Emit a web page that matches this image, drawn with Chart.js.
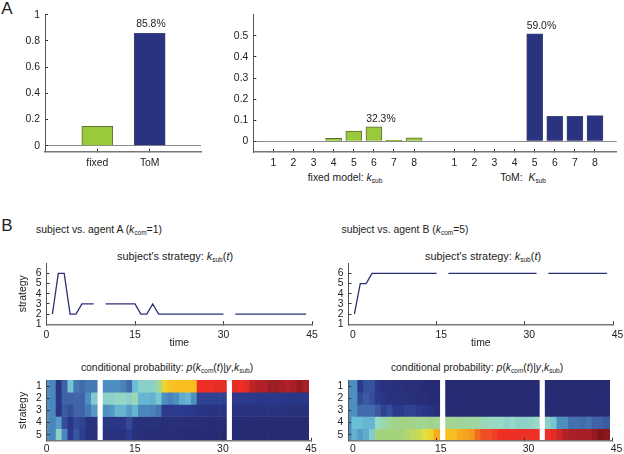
<!DOCTYPE html>
<html><head><meta charset="utf-8">
<script src="https://cdn.jsdelivr.net/npm/chart.js@4"></script>
<style>
html,body{margin:0;padding:0;background:#fff;width:624px;height:454px;overflow:hidden}
canvas{position:absolute}
.t{position:absolute;font-family:"Liberation Sans",Arial,sans-serif;font-size:10.4px;line-height:12px;color:#222;white-space:nowrap;transform:translate(-50%,-50%)}
.t sub{font-size:6.5px;line-height:0;vertical-align:-2px}
.big{font-size:17px;line-height:18px}
.s{font-size:10.9px}
</style></head><body>
<div class="t big" style="left:7px;top:9px">A</div>
<div class="t big" style="left:7px;top:226px">B</div>
<div class="t" style="left:345px;top:178px">fixed model: <i>k</i><sub>sub</sub></div>
<div class="t" style="left:523px;top:178px">ToM: &nbsp;<i>K</i><sub>sub</sub></div>
<div class="t" style="left:99px;top:230px">subject vs. agent A (<i>k</i><sub>com</sub>=1)</div>
<div class="t" style="left:405px;top:230px">subject vs. agent B (<i>k</i><sub>com</sub>=5)</div>
<div class="t s" style="left:175px;top:256px">subject's strategy: <i>k</i><sub>sub</sub>(<i>t</i>)</div>
<div class="t s" style="left:483px;top:256px">subject's strategy: <i>k</i><sub>sub</sub>(<i>t</i>)</div>
<div class="t" style="left:167px;top:368px">conditional probability: <i>p</i>(<i>k</i><sub>com</sub>(<i>t</i>)|<i>y</i>,<i>k</i><sub>sub</sub>)</div>
<div class="t" style="left:477px;top:368px">conditional probability: <i>p</i>(<i>k</i><sub>com</sub>(<i>t</i>)|<i>y</i>,<i>k</i><sub>sub</sub>)</div>
<script>
// ---------- data ----------
const modelNames = ['fixed','ToM'];
const modelEvidence = [0.148,0.858];
const levelLabels = [1,2,3,4,5,6,7,8];
const fixedLevelValues = [0,0,0,0.014,0.049,0.068,0.005,0.017];
const tomLevelValues = [0,0,0,0,0.509,0.118,0.118,0.122];
const yTicksModel = [0,0.2,0.4,0.6,0.8,1];
const yTicksLevel = [0,0.1,0.2,0.3,0.4,0.5];
const timeTicks = [0,15,30,45];
const strategyTicks = [1,2,3,4,5,6];
const rowTicks = [1,2,3,4,5];

const strategyA = [null,2,6,6,2,2,3,3,3,null,3,3,3,3,3,3,2,2,3,2,2,2,2,2,2,2,2,2,2,2,2,null,2,2,2,2,2,2,2,2,2,2,2,2,2];
const strategyB = [null,2,5,5,6,6,6,6,6,6,6,6,6,6,6,6,null,6,6,6,6,6,6,6,6,6,6,6,6,6,6,6,6,null,6,6,6,6,6,6,6,6,6,6,6];

const agentA1 = [.3,.28,.07,.2,.42,.25,.22,.25,.25,null,.3,.3,.3,.27,.22,.4,.47,.47,.47,.55,.72,.75,.76,.76,.76,.76,.87,.87,.87,.88,.88,null,.88,.87,.88,.92,.93,.93,.95,.95,.94,.93,.94,.96,.94];
const agentA2 = [.3,.28,.08,.2,.2,.21,.2,.3,.45,null,.47,.47,.49,.49,.47,.52,.38,.38,.37,.43,.3,.27,.3,.36,.38,.3,.12,.12,.12,.12,.12,null,.1,.1,.1,.1,.09,.09,.09,.09,.09,.08,.08,.08,.08];
const agentA3 = [.3,.28,.08,.18,.15,.2,.2,.25,.32,null,.3,.32,.38,.38,.33,.38,.28,.28,.27,.24,.1,.1,.1,.1,.1,.09,.07,.07,.06,.06,.06,null,.05,.05,.05,.05,.05,.05,.05,.05,.05,.04,.04,.04,.04];
const agentA4 = [.3,.28,.33,.15,.08,.14,.12,.05,.05,null,.07,.07,.07,.09,.14,.05,.04,.04,.04,.04,.03,.03,.03,.03,.03,.03,.03,.02,.02,.02,.02,null,.01,.01,.01,.01,.01,.01,.01,.01,.01,.01,.01,.01,.01];
const agentA5 = [.3,.28,.47,.28,.1,.17,.11,.05,.04,null,.05,.05,.05,.06,.1,.04,.03,.03,.03,.03,.03,.03,.02,.02,.02,.02,.02,.02,.02,.01,.01,null,.01,.01,.01,.01,.01,.01,.01,.01,.01,.01,.01,.01,.01];

const agentB1 = [.3,.3,.1,.16,.16,.09,.05,.05,.04,.04,.03,.03,.03,.02,.02,.01,null,.01,.01,.01,.01,.01,.01,.01,.01,.01,.01,.01,.01,.01,.01,.01,.01,null,.01,.01,.01,.01,.01,.01,.01,.01,.01,.01,.01];
const agentB2 = [.3,.3,.14,.18,.15,.1,.07,.05,.05,.05,.04,.04,.03,.03,.02,.02,null,.01,.01,.01,.01,.01,.01,.01,.01,.01,.01,.01,.01,.01,.01,.01,.01,null,.01,.01,.01,.01,.01,.01,.01,.01,.01,.01,.01];
const agentB3 = [.3,.3,.22,.22,.22,.18,.12,.15,.1,.1,.12,.12,.1,.08,.06,.03,null,.01,.01,.01,.01,.01,.01,.01,.01,.01,.01,.01,.01,.01,.01,.01,.01,null,.01,.01,.01,.01,.01,.01,.01,.01,.01,.01,.01];
const agentB4 = [.3,.4,.4,.38,.38,.5,.53,.57,.58,.59,.59,.58,.57,.57,.58,.57,null,.57,.57,.56,.56,.55,.55,.52,.51,.5,.5,.48,.5,.47,.47,.48,.5,null,.47,.42,.3,.3,.23,.23,.22,.24,.2,.2,.18];
const agentB5 = [.3,.37,.33,.36,.45,.6,.6,.6,.6,.6,.62,.64,.66,.69,.72,.78,null,.76,.76,.78,.79,.8,.83,.85,.85,.86,.87,.87,.87,.87,.87,.87,.87,null,.87,.88,.9,.93,.94,.94,.94,.94,.96,.98,.97];

// ---------- styles ----------
const GREEN='#9bc93c', GREEN_B='#5d6e36', NAVY='#2a3380', NAVY_B='#3f4576';
const FONT={family:'"Liberation Sans",Arial,sans-serif',size:10.4};
const TXT='#222', AX='#555', AXB='#777';
const stops=[[0,[39,41,113]],[.1,[43,58,140]],[.2,[63,98,168]],[.3,[77,143,192]],[.4,[108,192,214]],[.5,[152,216,196]],[.6,[163,211,124]],[.7,[232,224,58]],[.76,[248,190,32]],[.8,[245,154,32]],[.87,[238,47,37]],[.94,[168,31,40]],[1,[110,16,20]]];
function cmap(v){
  for(let i=1;i<stops.length;i++){
    if(v<=stops[i][0]){
      const [a,ca]=stops[i-1],[b,cb]=stops[i],f=(v-a)/(b-a);
      return 'rgb('+ca.map((c,k)=>Math.round(c+(cb[k]-c)*f)).join(',')+')';
    }
  }
  return 'rgb(110,16,20)';
}
const ticksAt=vals=>s=>{s.ticks=vals.map(v=>({value:v}));};

const notePlugin={id:'barNote',afterDatasetsDraw(c,_,o){
  (o.notes||[]).forEach(n=>{
    const el=c.getDatasetMeta(n.ds).data[n.i];
    const ctx=c.ctx;ctx.save();ctx.font='10.4px '+FONT.family;ctx.fillStyle=TXT;ctx.textAlign='center';ctx.textBaseline='middle';
    ctx.fillText(n.text,el.x+n.dx,el.y+n.dy);ctx.restore();
  });
}};

// rect = plot area in page pixels; the canvas is placed on whole pixels around it.
// marL = room for the y axis, marB = room under the x axis.
function make(rect,marL,marB,type,data,x,y,notes){
  const TOP=18, RIGHT=20;
  const L=Math.floor(rect.x-marL), T=Math.floor(rect.y-TOP);
  const lm=rect.x-L, tm=rect.y-T;
  const cv=document.createElement('canvas');
  cv.width=Math.ceil(lm+rect.w+RIGHT);cv.height=Math.ceil(tm+rect.h+marB);
  cv.style.left=L+'px';cv.style.top=T+'px';
  document.body.appendChild(cv);
  x.afterFit=s=>{s.height=cv.height-tm-rect.h;};
  y.afterFit=s=>{s.width=lm;};
  return new Chart(cv,{type,data,plugins:[notePlugin],options:{
    responsive:false,animation:false,events:[],
    layout:{padding:{top:tm,right:cv.width-lm-rect.w,left:0,bottom:0}},
    plugins:{legend:{display:false},tooltip:{enabled:false},title:{display:false},barNote:{notes:notes||[]}},
    scales:{x,y}
  }});
}
function xScale(o){
  return {type:'linear',offset:false,
    border:{color:AXB,width:1.5,z:2},
    grid:{drawOnChartArea:false,tickLength:-3,tickColor:'#333',offset:false,z:o.onTop?1:-1},
    min:o.min,max:o.max,afterBuildTicks:ticksAt(o.at),
    ticks:{font:FONT,color:TXT,padding:o.pad,autoSkip:false,maxRotation:0,minRotation:0,labelOffset:o.lo||0,callback:o.label||(v=>String(v))}};
}
function yScale(o){
  return {type:'linear',min:o.min,max:o.max,reverse:!!o.reverse,afterBuildTicks:ticksAt(o.at),
    border:{color:AX,width:1,z:2},
    grid:{color:o.zero?(c=>c.tick&&c.tick.value===0?'#8c8c8c':'transparent'):'transparent',drawOnChartArea:!!o.zero,tickLength:-3,tickColor:'#333',lineWidth:1,z:o.onTop?1:-1},
    ticks:{font:FONT,color:TXT,padding:8,autoSkip:false,callback:v=>String(v)},
    title:o.title?{display:true,text:o.title,font:FONT,color:TXT,padding:{top:o.tp,bottom:0}}:{display:false}};
}

// ---------- panel A ----------
make({x:45,y:14.7,w:156,h:137},45,20,'bar',{
  datasets:[{data:modelEvidence.map((v,i)=>({x:i+1,y:v})),barThickness:31,grouped:false,
    backgroundColor:[GREEN,NAVY],borderColor:[GREEN_B,NAVY_B],borderWidth:1}]
},xScale({min:0,max:2.98,at:[1,2],pad:8,label:v=>modelNames[v-1]}),
  yScale({min:-0.046,max:1,at:yTicksModel,zero:true}),
  [{ds:0,i:1,text:'85.8%',dx:1.2,dy:-9}]);

make({x:253.3,y:14.7,w:363.4,h:137.3},40,20,'bar',{
  datasets:[
    {data:fixedLevelValues.map((v,i)=>({x:i+1,y:v})).filter(d=>d.y>0),barThickness:16,grouped:false,backgroundColor:GREEN,borderColor:GREEN_B,borderWidth:1},
    {data:tomLevelValues.map((v,i)=>({x:i+10,y:v})).filter(d=>d.y>0),barThickness:16,grouped:false,backgroundColor:NAVY,borderColor:NAVY_B,borderWidth:1}
  ]
},xScale({min:0,max:18.08,at:[1,2,3,4,5,6,7,8,10,11,12,13,14,15,16,17],pad:8,label:v=>String(levelLabels[(v>9?v-10:v-1)])}),
  yScale({min:-0.0507,max:0.6,at:yTicksLevel,zero:true}),
  [{ds:0,i:2,text:'32.3%',dx:7,dy:-8},{ds:1,i:0,text:'59.0%',dx:6.7,dy:-8}]);

// ---------- panel B lines ----------
function lineChart(rect,vals,title,lo){
  const xs=xScale({min:0,max:45,at:timeTicks,pad:7.5,lo});
  xs.title={display:true,text:'time',font:FONT,color:TXT,padding:{top:0,bottom:0}};
  make(rect,rect.x,24,'line',{
    datasets:[{data:vals.map((v,t)=>({x:t,y:v})),borderColor:'#2b3075',borderWidth:1.3,pointRadius:0,tension:0,spanGaps:false,fill:false}]
  },xs,yScale({min:1,max:7,at:strategyTicks,title,tp:17}));
}
lineChart({x:46.5,y:263.3,w:265.5,h:61},strategyA,'strategy',0);
lineChart({x:348.5,y:263.3,w:264.5,h:61},strategyB,null,4.5);

// ---------- panel B heat maps ----------
function heat(rect,rows,title,lo){
  const datasets=rows.map((vals,r)=>{
    const pts=vals.map((v,t)=>({t,v})).filter(d=>d.v!==null);
    return {data:pts.map(d=>({x:d.t+0.1,y:[r+0.5,r+1.5]})),
      backgroundColor:pts.map(d=>cmap(d.v)),borderWidth:0,barThickness:5.9,grouped:false};
  });
  const xs=xScale({min:0,max:45,at:timeTicks,pad:5,lo,onTop:true});
  const ys=yScale({min:0.5,max:5.5,reverse:true,at:rowTicks,title,tp:17,onTop:true});
  make(rect,rect.x,16,'bar',{datasets},xs,ys);
}
heat({x:46.7,y:380,w:264.3,h:60.8},[agentA1,agentA2,agentA3,agentA4,agentA5],'strategy',0);
heat({x:348.3,y:380,w:263.7,h:60.8},[agentB1,agentB2,agentB3,agentB4,agentB5],null,4.5);
</script>
</body></html>
